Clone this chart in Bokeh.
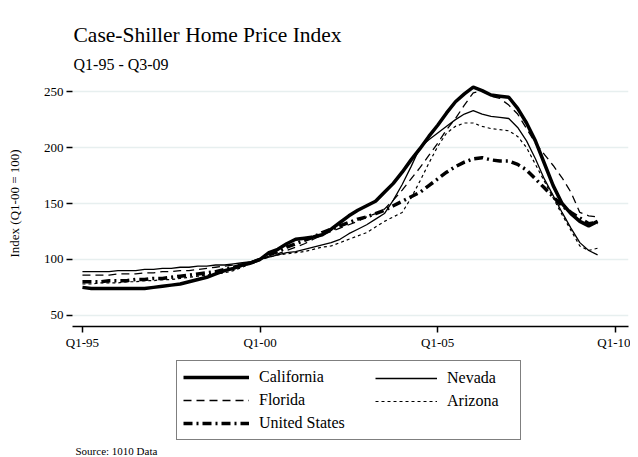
import numpy as np
from bokeh.plotting import figure
from bokeh.models import Range1d, FixedTicker, Legend, LegendItem, Title, Label
from bokeh.layouts import column
from bokeh.embed import file_html
from bokeh.resources import INLINE

# Quarterly index values, Q1-95 .. Q3-09 (Q1-00 = 100)
california = [75, 74, 74, 74, 74, 74, 74, 74, 75, 76,
              77, 78, 80, 82, 84, 87, 90, 92, 95, 97,
              100, 106, 109, 114, 118, 119, 120, 122, 127, 133,
              139, 144, 148, 152, 160, 168, 178, 189, 199, 210,
              220, 231, 241, 248, 254, 251, 247, 246, 245, 235,
              222, 206, 186, 166, 150, 141, 134, 130, 134]
nevada = [89, 89, 89, 89, 90, 90, 90, 91, 91, 92,
          92, 93, 93, 94, 94, 95, 95, 96, 97, 98,
          100, 102, 104, 106, 107, 109, 111, 113, 115, 118,
          123, 127, 131, 136, 141, 153, 167, 183, 200, 207,
          213, 219, 225, 230, 233, 230, 228, 227, 226, 218,
          206, 190, 172, 157, 142, 128, 115, 108, 104]
florida = [86, 86, 86, 86, 87, 87, 87, 88, 88, 89,
           89, 90, 90, 91, 92, 93, 94, 95, 96, 98,
           100, 103, 105, 108, 111, 114, 118, 122, 125, 128,
           131, 134, 138, 141, 145, 153, 162, 172, 182, 193,
           204, 216, 226, 238, 249, 251, 246, 244, 238, 230,
           217, 204, 194, 184, 173, 160, 142, 139, 138]
arizona = [78, 78, 79, 79, 79, 80, 80, 81, 81, 82,
           82, 83, 84, 85, 86, 87, 88, 90, 93, 96,
           100, 102, 104, 105, 106, 107, 109, 111, 112, 115,
           118, 121, 124, 129, 134, 138, 142, 155, 170, 186,
           201, 213, 219, 222, 222, 219, 217, 216, 215, 210,
           200, 185, 170, 155, 140, 126, 112, 108, 110]
united_states = [80, 80, 80, 81, 81, 81, 82, 82, 83, 83,
                 84, 85, 86, 87, 88, 89, 91, 93, 95, 97,
                 100, 104, 107, 111, 114, 117, 120, 124, 127, 130,
                 133, 136, 138, 141, 144, 148, 152, 156, 160, 166,
                 172, 178, 183, 187, 190, 191, 189, 188, 188, 185,
                 180, 172, 164, 156, 148, 142, 137, 132, 133]

start_year = 1995
x_tick_values = [1995, 2000, 2005, 2010]
x_tick_labels = ["Q1-95", "Q1-00", "Q1-05", "Q1-10"]
y_tick_values = [50, 100, 150, 200, 250]

x = start_year + np.arange(len(california)) / 4.0

FONT = "Liberation Serif"

# ---------------- main chart ----------------
p = figure(width=630, height=352, output_backend="svg", toolbar_location=None,
           x_range=Range1d(1994.72, 2010.37), y_range=Range1d(40, 260),
           min_border_left=72, min_border_right=2, min_border_top=80,
           min_border_bottom=25, title=None)
p.outline_line_color = None
p.background_fill_color = "white"
p.border_fill_color = "white"

sub = Title(text="Q1-95 - Q3-09", align="left", offset=1, text_font=FONT,
            text_font_size="16px", text_font_style="normal", text_color="black", standoff=15)
main = Title(text="Case-Shiller Home Price Index", align="left", offset=1, text_font=FONT,
             text_font_size="21.5px", text_font_style="normal", text_color="black", standoff=0)
p.add_layout(sub, "above")
p.add_layout(main, "above")

xa = p.xaxis[0]
xa.ticker = FixedTicker(ticks=x_tick_values)
xa.major_label_overrides = {v: l for v, l in zip(x_tick_values, x_tick_labels)}
xa.axis_line_color = "black"
xa.axis_line_width = 1.5
xa.major_tick_line_color = "black"
xa.major_tick_line_width = 1.5
xa.major_tick_out = 6
xa.major_tick_in = 0
xa.minor_tick_line_color = None
xa.major_label_standoff = 2
xa.major_label_text_font = FONT
xa.major_label_text_font_size = "13px"
xa.major_label_text_color = "black"

ya = p.yaxis[0]
ya.ticker = FixedTicker(ticks=y_tick_values)
ya.axis_line_color = None
ya.major_tick_line_color = "black"
ya.major_tick_line_width = 1.5
ya.major_tick_out = 6
ya.major_tick_in = 0
ya.minor_tick_line_color = None
ya.major_label_standoff = 3
ya.major_label_text_font = FONT
ya.major_label_text_font_size = "13px"
ya.major_label_text_color = "black"
ya.axis_label = "Index (Q1-00 = 100)"
ya.axis_label_text_font = FONT
ya.axis_label_text_font_size = "13px"
ya.axis_label_text_font_style = "normal"
ya.axis_label_text_color = "black"
ya.axis_label_standoff = 19

p.xgrid.visible = False
p.ygrid.ticker = FixedTicker(ticks=y_tick_values)
p.ygrid.grid_line_color = "#e7efef"
p.ygrid.grid_line_width = 1.5

styles = {
    "Arizona": dict(line_color="black", line_width=1.2, line_dash="3 3"),
    "Florida": dict(line_color="black", line_width=1.3, line_dash="8 5"),
    "Nevada": dict(line_color="black", line_width=1.3),
    "United States": dict(line_color="black", line_width=3.5, line_dash="9 4 2 4"),
    "California": dict(line_color="black", line_width=3.5),
}
series = {"Arizona": arizona, "Florida": florida, "Nevada": nevada,
          "United States": united_states, "California": california}

for name, vals in series.items():
    p.line(x, vals, **styles[name])

# ---------------- legend + source strip ----------------
q = figure(width=630, height=105, output_backend="svg", toolbar_location=None,
           x_range=Range1d(0, 1), y_range=Range1d(0, 1),
           min_border=0, x_axis_location=None, y_axis_location=None, title=None)
q.outline_line_color = None
q.grid.visible = False
q.background_fill_color = "white"
q.border_fill_color = "white"

rend = {}
for name, vals in series.items():
    rend[name] = q.line(x, vals, **styles[name])   # data lies outside this strip's ranges

common = dict(padding=6, spacing=3, glyph_height=20, label_height=20,
              label_standoff=10, label_text_font=FONT, label_text_font_size="16px",
              label_text_color="black", margin=0)

legA = Legend(items=[LegendItem(label=n, renderers=[rend[n]])
                     for n in ["California", "Florida", "United States"]],
              location=(104, 17), border_line_color="black", border_line_width=1.5,
              background_fill_color="white", background_fill_alpha=1.0,
              glyph_width=66, label_width=255, **common)
legB = Legend(items=[LegendItem(label=n, renderers=[rend[n]])
                     for n in ["Nevada", "Arizona"]],
              location=(303, 46), border_line_color=None,
              background_fill_alpha=0.0, glyph_width=62, **common)
q.add_layout(legA)
q.add_layout(legB)

q.add_layout(Label(x=3, y=7, x_units="screen", y_units="screen", text="Source: 1010 Data",
                   text_font=FONT, text_font_size="11px", text_color="black",
                   text_align="left", text_baseline="middle"))

open("out.html", "w").write(file_html(column(p, q, spacing=0), INLINE))
